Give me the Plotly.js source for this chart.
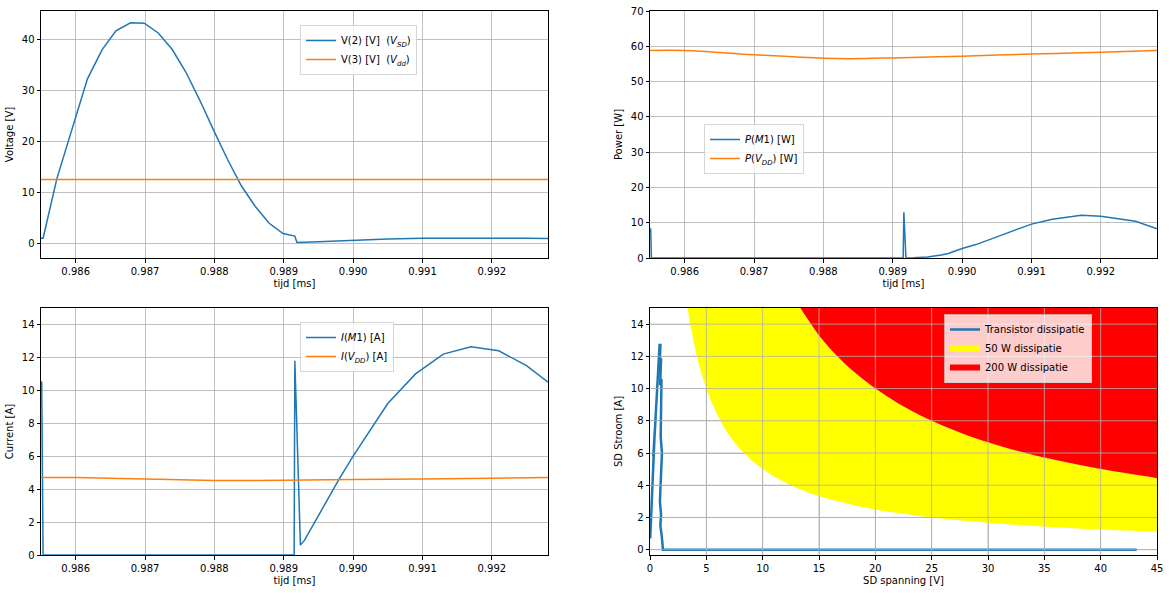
<!DOCTYPE html>
<html>
<head>
<meta charset="utf-8">
<script src="https://cdn.plot.ly/plotly-3.0.1.min.js"></script>
<style>html,body{margin:0;padding:0;background:#fff}#chart{width:1170px;height:593px}</style>
</head>
<body>
<div id="chart"></div>
<script>
// ---------- data ----------
const timeTicks = [0.986, 0.987, 0.988, 0.989, 0.990, 0.991, 0.992];
const timeTickLabels = ['0.986', '0.987', '0.988', '0.989', '0.990', '0.991', '0.992'];
const timeRange = [0.98550, 0.99281];

// V(2) source-drain voltage
const tV2 = [0.98550, 0.98553, 0.98573, 0.98600, 0.98617, 0.98638, 0.98658, 0.98679, 0.98699,
             0.98719, 0.98739, 0.98759, 0.98779, 0.98799, 0.98819, 0.98839, 0.98859, 0.98879,
             0.98899, 0.98916, 0.98919, 0.98950, 0.99000, 0.99050, 0.99100, 0.99150, 0.99200,
             0.99250, 0.99281];
const V2 = [0.97, 0.97, 12.7, 24.8, 32.2, 37.9, 41.6, 43.2, 43.1,
            41.2, 38.0, 33.5, 28.0, 22.1, 16.4, 11.2, 7.2, 3.9,
            1.9, 1.4, 0.13, 0.3, 0.62, 0.8, 0.95, 1.0, 1.0,
            0.97, 0.92];
// V(3) supply voltage
const tV3 = [0.98550, 0.98700, 0.98900, 0.99100, 0.99281];
const V3 = [12.5, 12.5, 12.5, 12.5, 12.5];

// P(M1)
const tPM1 = [0.98550, 0.98551, 0.98552, 0.98700, 0.98900, 0.98915, 0.98916, 0.98919, 0.98930,
              0.98950, 0.98970, 0.98980, 0.99000, 0.99020, 0.99050, 0.99080, 0.99100, 0.99130,
              0.99150, 0.99172, 0.99200, 0.99220, 0.99250, 0.99281];
const PM1 = [8.2, 8.2, 0, 0, 0, 0, 12.95, 0, 0.05,
             0.3, 0.85, 1.3, 2.7, 3.8, 6.0, 8.1, 9.6, 11.0,
             11.6, 12.1, 11.8, 11.3, 10.4, 8.3];
// P(VDD)
const tPDD = [0.98550, 0.98600, 0.98700, 0.98800, 0.98840, 0.98900, 0.99000, 0.99100, 0.99200, 0.99281];
const PDD = [58.8, 58.8, 57.6, 56.6, 56.5, 56.7, 57.2, 57.8, 58.3, 58.8];

// I(M1)
const tIM1 = [0.98550, 0.98551, 0.98553, 0.98700, 0.98900, 0.98915, 0.98916, 0.98924, 0.98930,
              0.98979, 0.99000, 0.99050, 0.99090, 0.99130, 0.99170, 0.99210, 0.99250, 0.99281];
const IM1 = [10.5, 10.5, 0, 0, 0, 0, 11.8, 0.6, 0.9,
             4.55, 6.0, 9.2, 11.0, 12.2, 12.65, 12.4, 11.5, 10.5];
// I(VDD)
const tIDD = [0.98550, 0.98600, 0.98700, 0.98800, 0.98840, 0.98900, 0.99000, 0.99100, 0.99200, 0.99281];
const IDD = [4.70, 4.70, 4.61, 4.53, 4.52, 4.54, 4.58, 4.62, 4.66, 4.71];

// SOA plot: transistor trajectory (SD voltage vs SD current)
const sdV = [0.02, 0.17, 0.08, 0.28, 0.18, 0.40, 0.29, 0.50, 0.40, 0.60, 0.50, 0.70, 0.60, 0.78,
             0.68, 0.85, 0.92, 0.88, 0.98, 0.90, 1.02, 0.95, 1.06, 0.88, 0.98, 0.92, 1.05, 1.12,
             1.15, 43.2];
const sdI = [0.7, 3.5, 2.0, 4.8, 3.6, 7.0, 5.8, 8.2, 7.0, 9.4, 8.6, 10.6, 9.6, 11.8,
             10.8, 12.7, 12.7, 11.8, 11.8, 10.2, 10.6, 7.0, 6.0, 3.0, 2.2, 1.5, 0.8, 0.0,
             0.0, 0.0];
// dissipation limit curves
const limV = [3.3, 3.6, 4, 4.5, 5, 5.5, 6, 6.5, 7, 8, 9, 10, 11, 12, 13, 14, 15, 16.5, 18, 20,
              22, 24, 26, 28, 30, 33, 36, 40, 45];
const lim50 = [15.15, 13.9, 12.5, 11.1, 10, 9.09, 8.33, 7.69, 7.14, 6.25, 5.56, 5, 4.55, 4.17, 3.85,
               3.57, 3.33, 3.03, 2.78, 2.5, 2.27, 2.08, 1.92, 1.79, 1.67, 1.52, 1.39, 1.25, 1.11];
const lim200 = [60.6, 55.6, 50, 44.4, 40, 36.4, 33.3, 30.8, 28.6, 25, 22.2, 20, 18.2, 16.7, 15.4,
                14.3, 13.3, 12.1, 11.1, 10, 9.09, 8.33, 7.69, 7.14, 6.67, 6.06, 5.56, 5, 4.44];
const limTop = limV.map(() => 16);

const sdVTicks = [0, 5, 10, 15, 20, 25, 30, 35, 40, 45];
const sdITicks = [0, 2, 4, 6, 8, 10, 12, 14];

// ---------- styling ----------
const BLUE = '#1f77b4', ORANGE = '#ff7f0e';
const FONT = 'DejaVu Sans, sans-serif';
const W = 1170, H = 593;
function px2x(a, b) { return [a / W, b / W]; }
function px2y(top, bottom) { return [1 - bottom / H, 1 - top / H]; }

function ax(extra) {
  return Object.assign({
    showline: true, mirror: true, linecolor: 'black', linewidth: 1,
    ticks: 'outside', ticklen: 3.5, tickwidth: 1, tickcolor: 'black',
    showgrid: true, gridcolor: '#b0b0b0', gridwidth: 0.8, zeroline: false,
    tickfont: { size: 10, color: 'black', family: FONT }
  }, extra);
}
function ttl(t, standoff) { return { text: t, font: { size: 10, color: 'black', family: FONT }, standoff: standoff }; }

const timeAxis = (dom, anchor) => ax({
  domain: dom, anchor: anchor, range: timeRange,
  tickmode: 'array', tickvals: timeTicks, ticktext: timeTickLabels,
  title: ttl('tijd [ms]', 4)
});

const traces = [
  // top-left
  { x: tV2, y: V2, type: 'scatter', mode: 'lines', line: { color: BLUE, width: 1.5 },
    name: 'V(2) [V]  (<i>V<sub>SD</sub></i>)', xaxis: 'x', yaxis: 'y', legend: 'legend' },
  { x: tV3, y: V3, type: 'scatter', mode: 'lines', line: { color: ORANGE, width: 1.5 },
    name: 'V(3) [V]  (<i>V<sub>dd</sub></i>)', xaxis: 'x', yaxis: 'y', legend: 'legend' },
  // top-right
  { x: tPM1, y: PM1, type: 'scatter', mode: 'lines', line: { color: BLUE, width: 1.5 },
    name: '<i>P</i>(<i>M</i>1) [W]', xaxis: 'x2', yaxis: 'y2', legend: 'legend2' },
  { x: tPDD, y: PDD, type: 'scatter', mode: 'lines', line: { color: ORANGE, width: 1.5, shape: 'spline' },
    name: '<i>P</i>(<i>V<sub>DD</sub></i>) [W]', xaxis: 'x2', yaxis: 'y2', legend: 'legend2' },
  // bottom-left
  { x: tIM1, y: IM1, type: 'scatter', mode: 'lines', line: { color: BLUE, width: 1.5 },
    name: '<i>I</i>(<i>M</i>1) [A]', xaxis: 'x3', yaxis: 'y3', legend: 'legend3' },
  { x: tIDD, y: IDD, type: 'scatter', mode: 'lines', line: { color: ORANGE, width: 1.5, shape: 'spline' },
    name: '<i>I</i>(<i>V<sub>DD</sub></i>) [A]', xaxis: 'x3', yaxis: 'y3', legend: 'legend3' },
  // bottom-right
  { x: limV, y: lim50, type: 'scatter', mode: 'lines', line: { width: 0, color: 'yellow', shape: 'spline' },
    showlegend: false, hoverinfo: 'skip', xaxis: 'x4', yaxis: 'y4', legend: 'legend4' },
  { x: limV, y: lim200, type: 'scatter', mode: 'none', fill: 'tonexty', fillcolor: '#ffff00',
    line: { shape: 'spline' }, name: '50 W dissipatie', legendrank: 2,
    xaxis: 'x4', yaxis: 'y4', legend: 'legend4' },
  { x: limV, y: limTop, type: 'scatter', mode: 'none', fill: 'tonexty', fillcolor: '#ff0000',
    name: '200 W dissipatie', legendrank: 3, xaxis: 'x4', yaxis: 'y4', legend: 'legend4' },
  { x: sdV, y: sdI, type: 'scatter', mode: 'lines', line: { color: BLUE, width: 2.5 },
    name: 'Transistor dissipatie', legendrank: 1, xaxis: 'x4', yaxis: 'y4', legend: 'legend4' }
];

// grid lines drawn above the filled regions in the SOA plot
const shapes = [];
sdVTicks.slice(1, -1).forEach(v => shapes.push({ type: 'line', xref: 'x4', yref: 'y4 domain', x0: v, x1: v, y0: 0, y1: 1,
  line: { color: '#b0b0b0', width: 0.8 }, layer: 'above' }));
sdITicks.forEach(v => shapes.push({ type: 'line', xref: 'x4 domain', yref: 'y4', x0: 0, x1: 1, y0: v, y1: v,
  line: { color: '#b0b0b0', width: 0.8 }, layer: 'above' }));

const legBase = {
  bgcolor: 'rgba(255,255,255,0.8)', bordercolor: 'rgba(204,204,204,0.8)', borderwidth: 1,
  font: { size: 10, color: 'black', family: FONT }, xanchor: 'left', yanchor: 'top',
  xref: 'paper', yref: 'paper', tracegroupgap: 0, traceorder: 'normal'
};

const leftX = px2x(41, 548), rightX = px2x(650, 1157);
const topY = px2y(11, 258), botY = px2y(308, 555);

const layout = {
  width: W, height: H,
  margin: { l: 0, r: 0, t: 0, b: 0 },
  paper_bgcolor: 'white', plot_bgcolor: 'white',
  font: { family: FONT, size: 10, color: 'black' },
  xaxis: timeAxis(leftX, 'y'),
  yaxis: ax({ domain: topY, anchor: 'x', range: [-2.9, 45.5], tickvals: [0, 10, 20, 30, 40], title: ttl('Voltage [V]', 6) }),
  xaxis2: timeAxis(rightX, 'y2'),
  yaxis2: ax({ domain: topY, anchor: 'x2', range: [0, 70], tickvals: [0, 10, 20, 30, 40, 50, 60, 70], title: ttl('Power [W]', 6) }),
  xaxis3: timeAxis(leftX, 'y3'),
  yaxis3: ax({ domain: botY, anchor: 'x3', range: [0, 15], tickvals: [0, 2, 4, 6, 8, 10, 12, 14], title: ttl('Current [A]', 6) }),
  xaxis4: ax({ domain: rightX, anchor: 'y4', range: [0, 45], tickvals: sdVTicks, title: ttl('SD spanning [V]', 4), layer: 'above traces' }),
  yaxis4: ax({ domain: botY, anchor: 'x4', range: [-0.33, 15], tickvals: sdITicks, title: ttl('SD Stroom [A]', 6), layer: 'above traces' }),
  legend: Object.assign({}, legBase, { x: 300 / W, y: 1 - 25 / H }),
  legend2: Object.assign({}, legBase, { x: 704 / W, y: 1 - 124 / H }),
  legend3: Object.assign({}, legBase, { x: 300 / W, y: 1 - 322 / H }),
  legend4: Object.assign({}, legBase, { x: 944 / W, y: 1 - 314 / H }),
  shapes: shapes,
  showlegend: true
};

Plotly.newPlot('chart', traces, layout, { displayModeBar: false, staticPlot: true });
</script>
</body>
</html>
